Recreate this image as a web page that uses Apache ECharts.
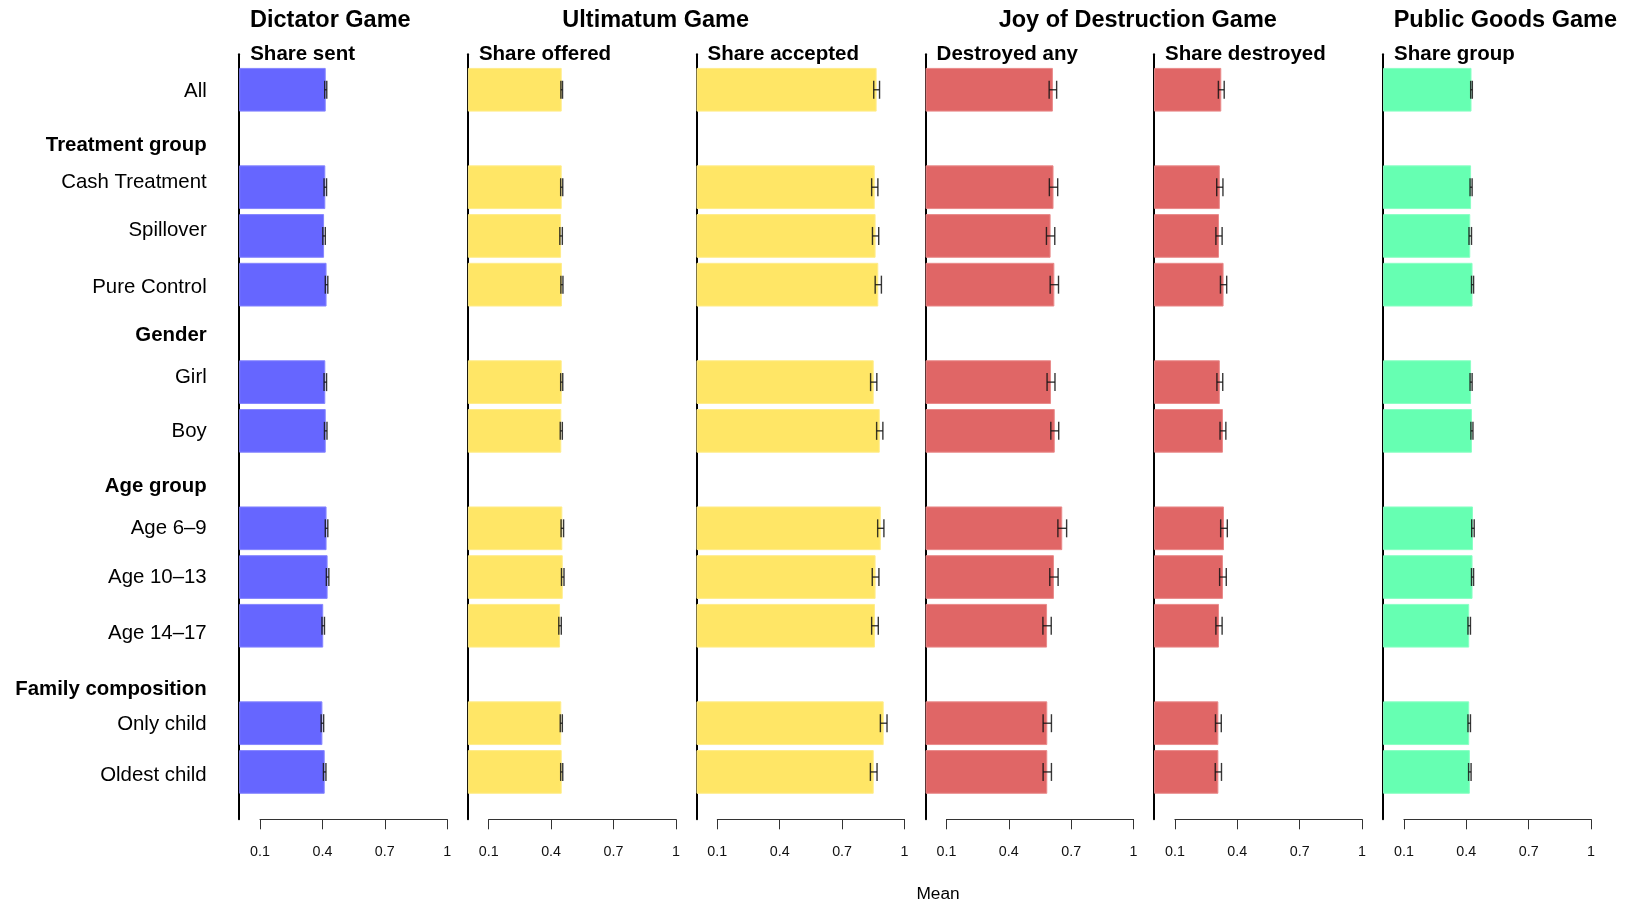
<!DOCTYPE html>
<html><head><meta charset="utf-8">
<script src="https://cdn.jsdelivr.net/npm/echarts@6/dist/echarts.min.js"></script>
<style>html,body{margin:0;padding:0;background:#fff}#c{width:1627px;height:903px}</style>
</head><body><div id="c"></div>
<script>
// ---------- data ----------
const categories = ['All','Treatment group','Cash Treatment','Spillover','Pure Control','Gender','Girl','Boy','Age group','Age 6\u20139','Age 10\u201313','Age 14\u201317','Family composition','Only child','Oldest child'];
const headerRows = ['Treatment group','Gender','Age group','Family composition'];
const gameTitles = ['Dictator Game','Ultimatum Game','Joy of Destruction Game','Public Goods Game'];
const panelTitles = ['Share sent','Share offered','Share accepted','Destroyed any','Share destroyed','Share group'];
const xTickMin = 0.1, xTickMax = 1, xTickStep = 0.3;
const axisTitle = 'Mean';

const shareSent       = [0.416,null,0.414,0.408,0.420,null,0.414,0.416,null,0.420,0.425,0.404,null,0.400,0.411];
const shareOffered    = [0.451,null,0.451,0.448,0.452,null,0.451,0.449,null,0.454,0.456,0.443,null,0.449,0.451];
const shareAccepted   = [0.866,null,0.857,0.861,0.874,null,0.852,0.881,null,0.886,0.861,0.858,null,0.900,0.852];
const destroyedAny    = [0.612,null,0.615,0.601,0.619,null,0.603,0.621,null,0.657,0.617,0.584,null,0.585,0.585];
const shareDestroyed  = [0.323,null,0.316,0.312,0.334,null,0.316,0.331,null,0.336,0.331,0.312,null,0.309,0.309];
const shareGroup      = [0.425,null,0.423,0.419,0.430,null,0.423,0.427,null,0.432,0.430,0.414,null,0.414,0.417];

const ciSent          = [0.005,null,0.006,0.006,0.006,null,0.006,0.006,null,0.006,0.006,0.006,null,0.006,0.006];
const ciOffered       = [0.004,null,0.005,0.006,0.005,null,0.005,0.005,null,0.006,0.006,0.006,null,0.005,0.005];
const ciAccepted      = [0.014,null,0.015,0.015,0.015,null,0.015,0.015,null,0.015,0.016,0.016,null,0.016,0.016];
const ciDestroyedAny  = [0.018,null,0.020,0.020,0.020,null,0.019,0.019,null,0.021,0.020,0.020,null,0.020,0.020];
const ciShareDestroyed= [0.014,null,0.015,0.015,0.015,null,0.014,0.014,null,0.016,0.016,0.015,null,0.014,0.015];
const ciShareGroup    = [0.004,null,0.005,0.006,0.005,null,0.005,0.005,null,0.006,0.005,0.006,null,0.006,0.006];

const panelValues = [shareSent, shareOffered, shareAccepted, destroyedAny, shareDestroyed, shareGroup];
const panelCIs = [ciSent, ciOffered, ciAccepted, ciDestroyedAny, ciShareDestroyed, ciShareGroup];

// ---------- layout / style ----------
const FONT = 'Liberation Sans, Arial, Helvetica, sans-serif';
const panelLeft = [239.2, 467.9, 696.5, 925.6, 1154.1, 1383.1];
const panelW = 208;
const barTop = 65.4, barH = 730.9;
const frameTop = 54.3, frameBottom = 819.3;
const panelColors = ['#6666FF','#FFE666','#FFE666','#E06666','#E06666','#66FFB2'];
const panelBorders = ['#8585FF','#FFEC8A','#FFEC8A','#E98A8A','#E98A8A','#8AFFC4'];
const gameTitleLeft = [250, 562.3, 998.7, 1393.7];
// vertical pixel nudges of the row labels (layout only)
const labelNudgePx = [2, 7, -5, -5.5, 2.5, 2, -5, 1, 7, 0, 0, 7.5, 15, 1, 3];
const LABEL_FS = 20.4;

const richStyles = {};
categories.forEach((c, i) => {
  const d = labelNudgePx[i];
  richStyles['r' + i] = {
    fontFamily: FONT, fontSize: LABEL_FS, color: '#000',
    fontWeight: headerRows.includes(c) ? 'bold' : 'normal',
    padding: [d > 0 ? 2*d : 0, 0, d < 0 ? -2*d : 0, 0]
  };
});

const grids = [], xAxes = [], yAxes = [], series = [], titles = [];
panelValues.forEach((vals, p) => {
  const L = panelLeft[p];
  const off = (xTickMin - 0) * panelW;
  grids.push({left: L, top: barTop, width: panelW, height: barH, containLabel: false, outerBoundsMode: 'none'});
  xAxes.push({gridIndex: 2*p, type: 'value', min: 0, max: 1, show: false});
  yAxes.push({
    gridIndex: 2*p, type: 'category', data: categories, inverse: true,
    show: p === 0,
    axisLine: {show: false}, axisTick: {show: false}, splitLine: {show: false},
    axisLabel: {
      show: p === 0, margin: 32.5, fontFamily: FONT, fontSize: LABEL_FS, color: '#000',
      formatter: (v) => '{r' + categories.indexOf(v) + '|' + v + '}',
      rich: richStyles
    }
  });
  grids.push({left: L + off, top: frameTop, width: panelW - off, height: frameBottom - frameTop, containLabel: false, outerBoundsMode: 'none'});
  xAxes.push({
    gridIndex: 2*p+1, type: 'value', min: xTickMin, max: xTickMax, interval: xTickStep,
    axisLine: {show: true, lineStyle: {color: '#333', width: 1}},
    axisTick: {show: true, inside: false, length: 10, lineStyle: {color: '#333', width: 1}},
    splitLine: {show: false},
    axisLabel: {show: true, margin: 26, fontFamily: FONT, fontSize: 14.3, color: '#111',
      showMinLabel: true, showMaxLabel: true,
      formatter: v => String(+(+v).toFixed(1))}
  });
  yAxes.push({
    gridIndex: 2*p+1, type: 'value', min: 0, max: 1, offset: off,
    axisLine: {show: true, onZero: false, lineStyle: {color: '#000', width: 2}},
    axisTick: {show: false}, axisLabel: {show: false}, splitLine: {show: false}
  });
  series.push({
    type: 'bar', xAxisIndex: 2*p, yAxisIndex: 2*p, data: vals, barWidth: 43.7,
    itemStyle: {color: panelColors[p], borderColor: panelBorders[p], borderWidth: 1},
    silent: true
  });
  const ci = panelCIs[p];
  const ebData = [];
  vals.forEach((v, i) => { if (v != null) ebData.push([v - ci[i], v + ci[i], i]); });
  series.push({
    type: 'custom', xAxisIndex: 2*p, yAxisIndex: 2*p, data: ebData,
    encode: {x: [0, 1], y: 2}, silent: true, z: 5,
    renderItem: (params, api) => {
      const a = api.coord([api.value(0), api.value(2)]);
      const b = api.coord([api.value(1), api.value(2)]);
      const h = 9;
      const st = {stroke: 'rgba(20,20,20,0.85)', lineWidth: 1.4, fill: null};
      return {type: 'group', children: [
        {type: 'line', shape: {x1: a[0], y1: a[1], x2: b[0], y2: b[1]}, style: st},
        {type: 'line', shape: {x1: a[0], y1: a[1]-h, x2: a[0], y2: a[1]+h}, style: st},
        {type: 'line', shape: {x1: b[0], y1: b[1]-h, x2: b[0], y2: b[1]+h}, style: st}
      ]};
    }
  });
  titles.push({text: panelTitles[p], left: L + 11, top: 44.3, padding: 0,
    textStyle: {fontFamily: FONT, fontSize: 20.5, fontWeight: 'bold', color: '#000'}});
});
gameTitles.forEach((t, g) => {
  titles.push({text: t, left: gameTitleLeft[g], top: 8.2, padding: 0,
    textStyle: {fontFamily: FONT, fontSize: 23.5, fontWeight: 'bold', color: '#000'}});
});
titles.push({text: axisTitle, left: 938, textAlign: 'center', top: 886, padding: 0,
  textStyle: {fontFamily: FONT, fontSize: 17.3, fontWeight: 'normal', color: '#000'}});

const chart = echarts.init(document.getElementById('c'), null, {renderer: 'canvas'});
chart.setOption({
  backgroundColor: '#fff', animation: false,
  textStyle: {fontFamily: FONT},
  title: titles, grid: grids, xAxis: xAxes, yAxis: yAxes, series: series
});
</script></body></html>
